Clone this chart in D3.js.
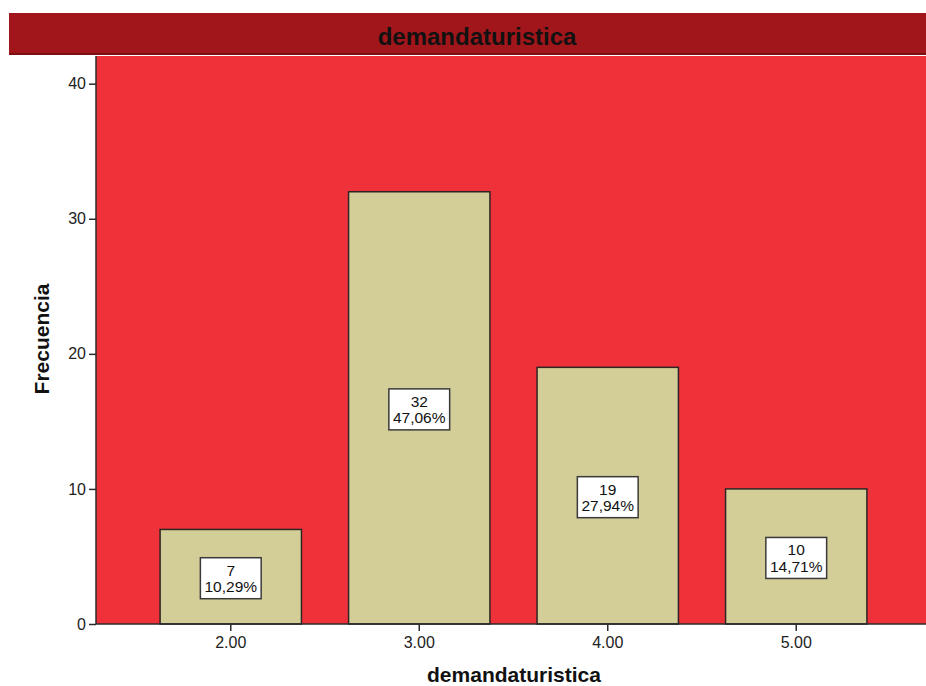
<!DOCTYPE html>
<html>
<head>
<meta charset="utf-8">
<script src="https://cdn.jsdelivr.net/npm/d3@7"></script>
<style>
  html, body { margin: 0; padding: 0; background: #ffffff; }
  svg { display: block; font-family: "Liberation Sans", Arial, sans-serif; }
</style>
</head>
<body>
<svg id="chart" width="926" height="686"></svg>
<script>
// Frequency table for "demandaturistica"
const categories = ["2.00", "3.00", "4.00", "5.00"];
const counts = [7, 32, 19, 10];
const percents = ["10,29%", "47,06%", "27,94%", "14,71%"];
const yTicks = [0, 10, 20, 30, 40];
const chartTitle = "demandaturistica";
const xTitle = "demandaturistica";
const yTitle = "Frecuencia";

const svg = d3.select("#chart");
const W = 926;

const plot = { left: 96, right: 931, top: 56, bottom: 624 };

const x = d3.scaleBand()
  .domain(categories)
  .range([plot.left, plot.right])
  .paddingInner(0.25)
  .paddingOuter(0.34);

const y = d3.scaleLinear()
  .domain([0, 42.05])
  .range([plot.bottom, plot.top]);

// Title band
svg.append("rect")
  .attr("x", 9).attr("y", 13)
  .attr("width", W - 9).attr("height", 42)
  .attr("fill", "#a1161a");
svg.append("rect")
  .attr("x", 9).attr("y", 53)
  .attr("width", W - 9).attr("height", 2)
  .attr("fill", "#7c1013");
svg.append("text")
  .attr("x", 477).attr("y", 45)
  .attr("text-anchor", "middle")
  .attr("font-size", 24).attr("font-weight", "bold")
  .attr("fill", "#111")
  .text(chartTitle);

// Plot background
svg.append("rect")
  .attr("x", plot.left).attr("y", plot.top)
  .attr("width", W - plot.left).attr("height", plot.bottom - plot.top)
  .attr("fill", "#ef323a");

// Bars
const bars = svg.append("g");
bars.selectAll("rect")
  .data(categories)
  .join("rect")
  .attr("x", d => x(d))
  .attr("y", (d, i) => y(counts[i]))
  .attr("width", x.bandwidth())
  .attr("height", (d, i) => y(0) - y(counts[i]))
  .attr("fill", "#d3cd98")
  .attr("stroke", "#2d2523")
  .attr("stroke-width", 1.5);

// Value labels inside bars
const labels = svg.append("g");
categories.forEach((c, i) => {
  const cx = x(c) + x.bandwidth() / 2;
  const cy = (y(counts[i]) + y(0)) / 2 + 1.5;
  const g = labels.append("g");
  const box = g.append("rect");
  const t1 = g.append("text")
    .attr("x", cx).attr("y", cy - 2.5)
    .attr("text-anchor", "middle")
    .attr("font-size", 15.5).attr("fill", "#111")
    .text(counts[i]);
  const t2 = g.append("text")
    .attr("x", cx).attr("y", cy + 14)
    .attr("text-anchor", "middle")
    .attr("font-size", 15.5).attr("fill", "#111")
    .text(percents[i]);
  const w = Math.max(t1.node().getBBox().width, t2.node().getBBox().width) + 8;
  const h = 41;
  box.attr("x", cx - w / 2).attr("y", cy - h / 2)
    .attr("width", w).attr("height", h)
    .attr("fill", "#ffffff")
    .attr("stroke", "#3a3a3a")
    .attr("stroke-width", 1.5);
});

// Y axis
const yAxis = svg.append("g")
  .attr("transform", `translate(${plot.left},0)`)
  .call(d3.axisLeft(y).tickValues(yTicks).tickSize(7).tickPadding(3).tickFormat(d3.format("d")));
yAxis.select(".domain").attr("stroke", "#2a2a2a").attr("stroke-width", 1.5)
  .attr("d", `M0,${plot.top}V${plot.bottom}`);
yAxis.selectAll(".tick line").attr("stroke", "#2a2a2a").attr("stroke-width", 1.5);
yAxis.selectAll(".tick text")
  .attr("font-size", 16).attr("fill", "#222")
  .attr("font-family", "'Liberation Sans', Arial, sans-serif");

// X axis
const xAxis = svg.append("g")
  .attr("transform", `translate(0,${plot.bottom})`)
  .call(d3.axisBottom(x).tickSize(7).tickPadding(6));
xAxis.select(".domain").attr("stroke", "#2a2a2a").attr("stroke-width", 1.5)
  .attr("d", `M${plot.left},0H${W}`);
xAxis.selectAll(".tick line").attr("stroke", "#2a2a2a").attr("stroke-width", 1.5);
xAxis.selectAll(".tick text")
  .attr("font-size", 16).attr("fill", "#222")
  .attr("font-family", "'Liberation Sans', Arial, sans-serif");

// Axis titles
svg.append("text")
  .attr("x", 514).attr("y", 682)
  .attr("text-anchor", "middle")
  .attr("font-size", 21).attr("font-weight", "bold")
  .attr("fill", "#111")
  .text(xTitle);

svg.append("text")
  .attr("transform", "translate(49,339) rotate(-90)")
  .attr("text-anchor", "middle")
  .attr("font-size", 21).attr("font-weight", "bold")
  .attr("fill", "#111")
  .text(yTitle);
</script>
</body>
</html>
